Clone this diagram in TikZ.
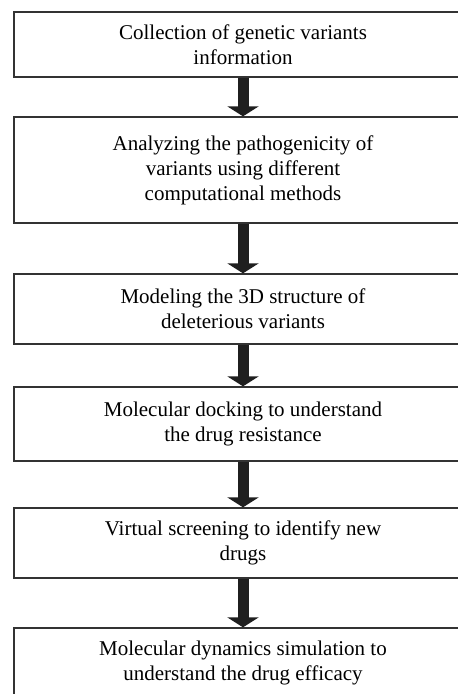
\documentclass[tikz,border=0pt]{standalone}
\usepackage{fontspec}
\setmainfont{Liberation Serif}
\usepackage{tikz}
\usetikzlibrary{arrows.meta}

\begin{document}
\begin{tikzpicture}[x=1pt,y=-1pt,
    stage/.style={draw=black!80, line width=1.3pt, minimum width=458pt,
        inner sep=0pt, align=center, font=\fontsize{21}{25}\selectfont},
    flow/.style={draw=black!88, line width=11pt,
        -{Triangle[width=31pt,length=10pt]}}]
            \useasboundingbox (0,0) rectangle (458,694);
            \clip (0,0) rectangle (458,694);
            \coordinate (A) at (243,44.5);
            \coordinate (B) at (243,170);
            \coordinate (C) at (243,309);
            \coordinate (D) at (243,424);
            \coordinate (E) at (243,543);
            \coordinate (F) at (243,663);
            \node (collect) at (A) [stage, minimum height=65pt] {Collection of genetic variants\\information};
            \node (analyze) at (B) [stage, minimum height=106pt] {Analyzing the pathogenicity of\\variants using different\\computational methods};
            \node (model) at (C) [stage, minimum height=70pt] {Modeling the 3D structure of\\deleterious variants};
            \node (dock) at (D) [stage, minimum height=74pt] {Molecular docking to understand\\the drug resistance};
            \node (screen) at (E) [stage, minimum height=70pt] {Virtual screening to identify new\\drugs};
            \node (dynamics) at (F) [stage, minimum height=70pt] {Molecular dynamics simulation to\\understand the drug efficacy};
            \draw[flow] (collect) -- (analyze);
            \draw[flow] (analyze) -- (model);
            \draw[flow] (model) -- (dock);
            \draw[flow] (dock) -- (screen);
            \draw[flow] (screen) -- (dynamics);
        \end{tikzpicture}
\end{document}
